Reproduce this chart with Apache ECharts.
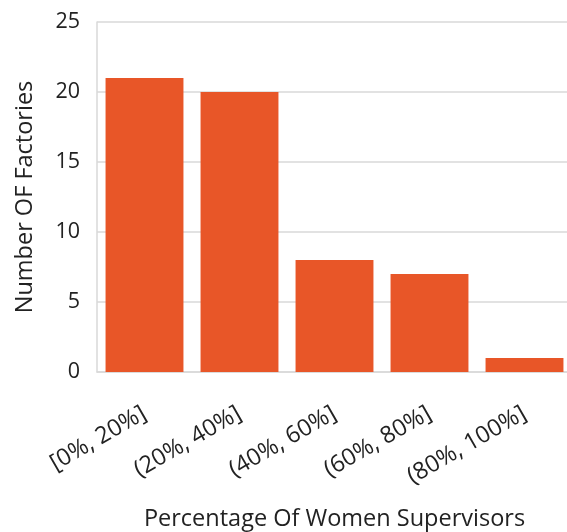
<!DOCTYPE html>
<html>
<head>
<meta charset="utf-8">
<script src="https://cdn.jsdelivr.net/npm/echarts@6/dist/echarts.min.js"></script>
<style>
  html, body { margin: 0; padding: 0; background: #fff; }
  #chart { width: 567px; height: 532px; }
</style>
</head>
<body>
<div id="chart"></div>
<script>
// Factories grouped by share of women among supervisors
const categories = ['[0%, 20%]', '(20%, 40%]', '(40%, 60%]', '(60%, 80%]', '(80%, 100%]'];
const factoryCounts = [21, 20, 8, 7, 1];
const yTicks = { min: 0, max: 25, interval: 5 };

const fontFamily = '"Open Sans", "Noto Sans", sans-serif';
const textColor = '#222';
const lineColor = '#d9d9d9';

const chart = echarts.init(document.getElementById('chart'), null, { renderer: 'canvas' });
chart.setOption({
  animation: false,
  textStyle: { fontFamily: fontFamily },
  grid: { left: 97, top: 22, bottom: 160, width: 475, containLabel: false, outerBoundsMode: 'none' },
  xAxis: {
    type: 'category',
    data: categories,
    name: 'Percentage Of Women Supervisors',
    nameLocation: 'middle',
    nameGap: 135,
    nameMoveOverlap: false,
    nameTextStyle: { fontSize: 23.5, color: textColor, fontFamily: fontFamily },
    axisLine: { show: true, lineStyle: { color: lineColor, width: 1.5 } },
    axisTick: { show: false },
    axisLabel: { rotate: 30, fontSize: 23.5, color: textColor, margin: 40, fontFamily: fontFamily, interval: 0 }
  },
  yAxis: {
    type: 'value',
    min: yTicks.min,
    max: yTicks.max,
    interval: yTicks.interval,
    name: 'Number OF Factories',
    nameLocation: 'middle',
    nameGap: 60,
    nameMoveOverlap: false,
    nameRotate: 90,
    nameTextStyle: { fontSize: 23.5, color: textColor, fontFamily: fontFamily },
    axisLine: { show: true, lineStyle: { color: lineColor, width: 1.5 } },
    axisTick: { show: false },
    axisLabel: { fontSize: 21.5, color: textColor, margin: 17, fontFamily: fontFamily },
    splitLine: { show: true, lineStyle: { color: lineColor, width: 1.5 } }
  },
  series: [{
    type: 'bar',
    data: factoryCounts,
    barCategoryGap: '18%',
    itemStyle: { color: '#E85628' }
  }]
});
</script>
</body>
</html>
